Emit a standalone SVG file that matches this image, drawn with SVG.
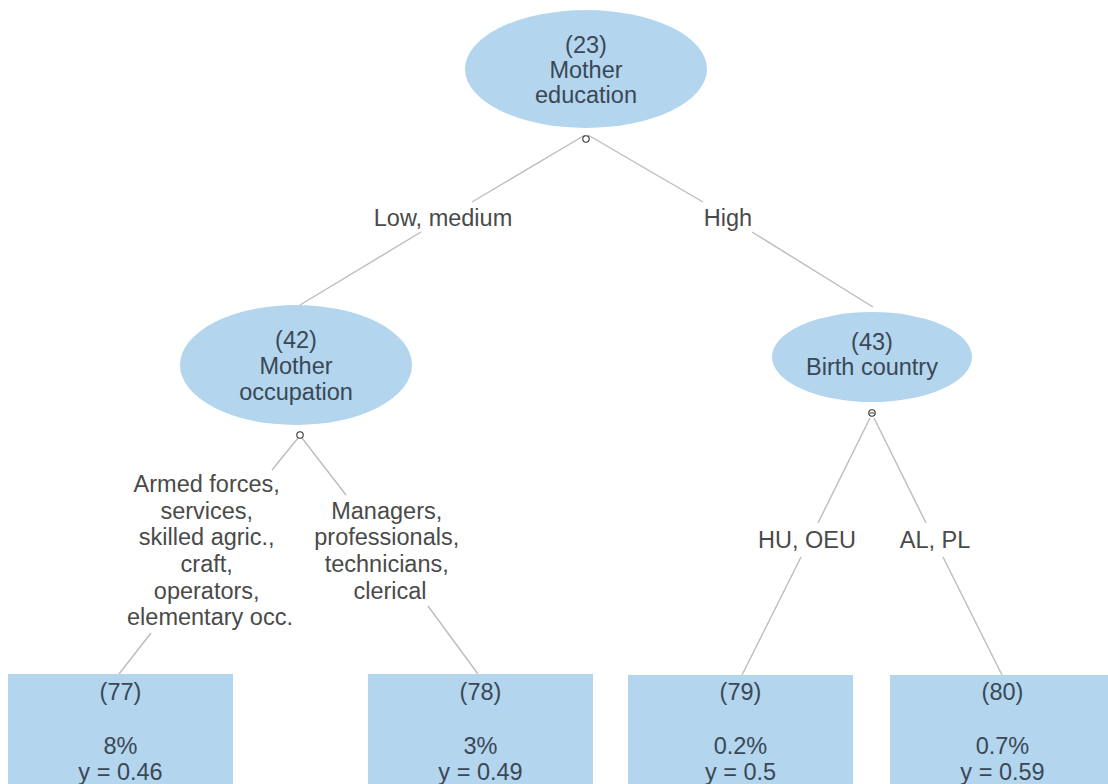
<svg xmlns="http://www.w3.org/2000/svg" width="1108" height="784" viewBox="0 0 1108 784">
  <style>
    .split { fill: #b3d5ee; }
    .leaf { fill: #b3d5ee; }
    .ntext { font-family: "Liberation Sans", Arial, sans-serif; font-size: 23.5px; fill: #3a4856; text-anchor: middle; }
    .etext { font-family: "Liberation Sans", Arial, sans-serif; font-size: 23.5px; fill: #4a4a4a; text-anchor: middle; }
    .edge { stroke: #bcbcbc; stroke-width: 1.4; fill: none; }
    .toggle { stroke: #333; stroke-width: 1.1; fill: #fff; }
  </style>
  <rect width="1108" height="784" fill="#ffffff"/>

  <!-- connectors, interrupted where the branch labels sit -->
  <g id="connectors">
    <line class="edge" x1="585" y1="135" x2="472" y2="202"/>
    <line class="edge" x1="421" y1="232" x2="300" y2="305"/>
    <line class="edge" x1="588" y1="135" x2="703" y2="202"/>
    <line class="edge" x1="752" y1="232" x2="873" y2="307"/>

    <line class="edge" x1="298" y1="438" x2="272" y2="470"/>
    <line class="edge" x1="151" y1="633" x2="119" y2="674"/>
    <line class="edge" x1="302" y1="438" x2="346" y2="495"/>
    <line class="edge" x1="428" y1="606" x2="478" y2="674"/>

    <line class="edge" x1="870" y1="418" x2="818" y2="523"/>
    <line class="edge" x1="801" y1="557" x2="742" y2="675"/>
    <line class="edge" x1="874" y1="418" x2="926" y2="523"/>
    <line class="edge" x1="943" y1="557" x2="1002" y2="675"/>
  </g>

  <g id="edge-labels">
    <text class="etext" x="443" y="226">Low, medium</text>
    <text class="etext" x="728" y="226">High</text>
    <text class="etext">
      <tspan x="210" y="492">Armed forces,</tspan>
      <tspan x="210" y="519">services,</tspan>
      <tspan x="210" y="545">skilled agric.,</tspan>
      <tspan x="210" y="572">craft,</tspan>
      <tspan x="210" y="599">operators,</tspan>
      <tspan x="210" y="625">elementary occ.</tspan>
    </text>
    <text class="etext">
      <tspan x="390" y="519">Managers,</tspan>
      <tspan x="390" y="545">professionals,</tspan>
      <tspan x="390" y="572">technicians,</tspan>
      <tspan x="390" y="599">clerical</tspan>
    </text>
    <text class="etext" x="807" y="548">HU, OEU</text>
    <text class="etext" x="935" y="548">AL, PL</text>
  </g>

  <g id="node-23">
    <ellipse class="split" cx="586" cy="69" rx="121" ry="59"/>
    <text class="ntext"><tspan x="586" y="53">(23)</tspan><tspan x="586" y="78">Mother</tspan><tspan x="586" y="103">education</tspan></text>
    <circle class="toggle" cx="586" cy="139" r="3.2"/>
  </g>

  <g id="node-42">
    <ellipse class="split" cx="296" cy="365" rx="116" ry="60"/>
    <text class="ntext"><tspan x="296" y="348">(42)</tspan><tspan x="296" y="374">Mother</tspan><tspan x="296" y="400">occupation</tspan></text>
    <circle class="toggle" cx="300" cy="435" r="3.2"/>
  </g>

  <g id="node-43">
    <ellipse class="split" cx="872" cy="357" rx="100" ry="45"/>
    <text class="ntext"><tspan x="872" y="350">(43)</tspan><tspan x="872" y="375">Birth country</tspan></text>
    <circle class="toggle" cx="872" cy="413" r="3.2"/>
    <line x1="869.5" y1="413" x2="874.5" y2="413" stroke="#333" stroke-width="1"/>
  </g>

  <g id="node-77">
    <rect class="leaf" x="8" y="674" width="225" height="120"/>
    <text class="ntext"><tspan x="120.5" y="700">(77)</tspan><tspan x="120.5" y="754">8%</tspan><tspan x="120.5" y="780">y = 0.46</tspan></text>
  </g>

  <g id="node-78">
    <rect class="leaf" x="368" y="674" width="225" height="120"/>
    <text class="ntext"><tspan x="480.5" y="700">(78)</tspan><tspan x="480.5" y="754">3%</tspan><tspan x="480.5" y="780">y = 0.49</tspan></text>
  </g>

  <g id="node-79">
    <rect class="leaf" x="628" y="675" width="225" height="120"/>
    <text class="ntext"><tspan x="740.5" y="700">(79)</tspan><tspan x="740.5" y="754">0.2%</tspan><tspan x="740.5" y="780">y = 0.5</tspan></text>
  </g>

  <g id="node-80">
    <rect class="leaf" x="890" y="675" width="225" height="120"/>
    <text class="ntext"><tspan x="1002.5" y="700">(80)</tspan><tspan x="1002.5" y="754">0.7%</tspan><tspan x="1002.5" y="780">y = 0.59</tspan></text>
  </g>
</svg>
